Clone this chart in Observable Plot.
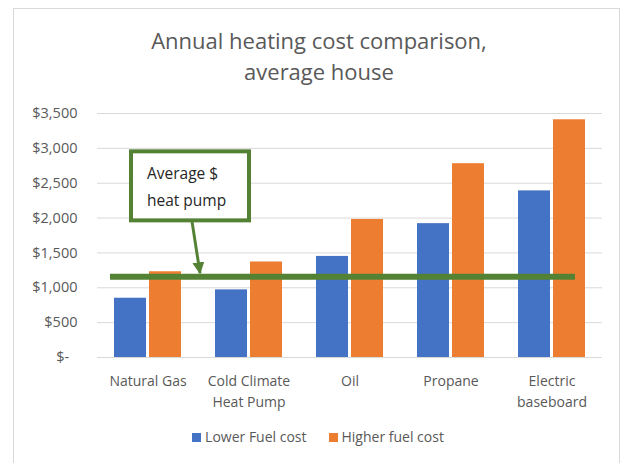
<!DOCTYPE html>
<html>
<head>
<meta charset="utf-8">
<script src="https://cdn.jsdelivr.net/npm/d3@7"></script>
<script src="https://cdn.jsdelivr.net/npm/@observablehq/plot@0.6"></script>
<style>
  html, body { margin: 0; padding: 0; background: #fff; overflow: hidden; }
  #wrap { position: relative; width: 624px; height: 463px; font-family: "Open Sans", sans-serif; color: #595959; }
  #frame { position: absolute; left: 13px; top: 8px; width: 607px; height: 480px; border: 1.5px solid #d9d9d9; box-sizing: border-box; }
  #title { position: absolute; left: 0; top: 25px; width: 638px; text-align: center; font-size: 22px; line-height: 31px; color: #595959; }
  #chart { position: absolute; left: 0; top: 95px; }
  #legend { position: absolute; left: 0; top: 427px; width: 636px; display: flex; justify-content: center; gap: 22px; font-size: 14px; color: #595959; }
  #legend span.sw { display: inline-block; width: 9px; height: 9px; margin-right: 4px; vertical-align: 0px; }
</style>
</head>
<body>
<div id="wrap">
  <div id="frame"></div>
  <div id="title">Annual heating cost comparison,<br>average house</div>
  <div id="chart"></div>
  <div id="legend"></div>
</div>
<script>
// ---- data ----
const categories = ["Natural Gas", "Cold Climate Heat Pump", "Oil", "Propane", "Electric baseboard"];
const categoryLabels = ["Natural Gas", "Cold Climate\nHeat Pump", "Oil", "Propane", "Electric\nbaseboard"];
const lowerFuelCost = [850, 970, 1450, 1920, 2390];
const higherFuelCost = [1230, 1370, 1980, 2780, 3410];
const seriesNames = ["Lower Fuel cost", "Higher fuel cost"];
const seriesColors = ["#4472C4", "#ED7D31"];
const averageHeatPump = 1160;
const yTicks = [0, 500, 1000, 1500, 2000, 2500, 3000, 3500];
const annotationText = ["Average $", "heat pump"];

const lowRows = categories.map((c, i) => ({category: c, value: lowerFuelCost[i]}));
const highRows = categories.map((c, i) => ({category: c, value: higherFuelCost[i]}));
const labelOf = new Map(categories.map((c, i) => [c, categoryLabels[i]]));
const green = "#548235";

const chart = Plot.plot({
  width: 624,
  height: 320,
  marginLeft: 97,
  marginRight: 22,
  marginTop: 18,
  marginBottom: 58,
  style: {fontFamily: "Open Sans, sans-serif", fontSize: "14px", color: "#595959", background: "transparent"},
  x: {type: "band", domain: categories, padding: 0},
  y: {domain: [0, 3500]},
  marks: [
    Plot.ruleY(yTicks, {stroke: "#d9d9d9", strokeWidth: 1}),
    Plot.barY(lowRows, {x: "category", y: "value", fill: seriesColors[0], insetLeft: 17, insetRight: 52}),
    Plot.barY(highRows, {x: "category", y: "value", fill: seriesColors[1], insetLeft: 52, insetRight: 17}),
    Plot.ruleY([averageHeatPump], {stroke: green, strokeWidth: 6, insetLeft: 13, insetRight: 27}),
    Plot.axisY({ticks: yTicks, tickSize: 0, tickPadding: 20, tickFormat: d => d === 0 ? "$-\u2007" : "$" + d3.format(",")(d), fill: "#595959", fontSize: 14.5, label: null}),
    Plot.axisX({tickSize: 0, tickPadding: 14, tickFormat: d => labelOf.get(d), lineHeight: 1.5, fill: "#595959", fontSize: 14, label: null})
  ]
});
document.getElementById("chart").appendChild(chart);

// ---- annotation box and arrow, anchored to the chart scales ----
const xs = chart.scale("x"), ys = chart.scale("y");
const svg = d3.select(chart);
const bx0 = xs.apply(categories[0]) + 34;
const bx1 = xs.apply(categories[1]) + 51;
const by0 = ys.apply(2950);
const by1 = ys.apply(1960);
const ann = svg.append("g");
ann.append("rect")
  .attr("x", bx0).attr("y", by0)
  .attr("width", bx1 - bx0).attr("height", by1 - by0)
  .attr("fill", "#fff").attr("stroke", green).attr("stroke-width", 4);
ann.append("text")
  .attr("x", bx0 + 16).attr("y", by0 + 22)
  .attr("font-size", 15.5).attr("fill", "#262626").attr("text-anchor", "start")
  .selectAll("tspan").data(annotationText).join("tspan")
  .attr("x", bx0 + 16).attr("dy", (d, i) => i === 0 ? "0.35em" : 27)
  .text(d => d);
const ax0 = bx0 + 61, ay0 = by1 + 1;
const ax1 = bx0 + 69, ay1 = ys.apply(averageHeatPump) - 3;
ann.append("defs").append("marker")
  .attr("id", "ah").attr("viewBox", "0 0 10 10").attr("refX", 9).attr("refY", 5)
  .attr("markerWidth", 4).attr("markerHeight", 4).attr("orient", "auto")
  .append("path").attr("d", "M0,0L10,5L0,10z").attr("fill", green);
ann.append("line")
  .attr("x1", ax0).attr("y1", ay0).attr("x2", ax1).attr("y2", ay1)
  .attr("stroke", green).attr("stroke-width", 3).attr("marker-end", "url(#ah)");

// ---- legend ----
const legend = d3.select("#legend");
seriesNames.forEach((name, i) => {
  const item = legend.append("div");
  item.append("span").attr("class", "sw").style("background", seriesColors[i]);
  item.append("span").text(name);
});
</script>
</body>
</html>
